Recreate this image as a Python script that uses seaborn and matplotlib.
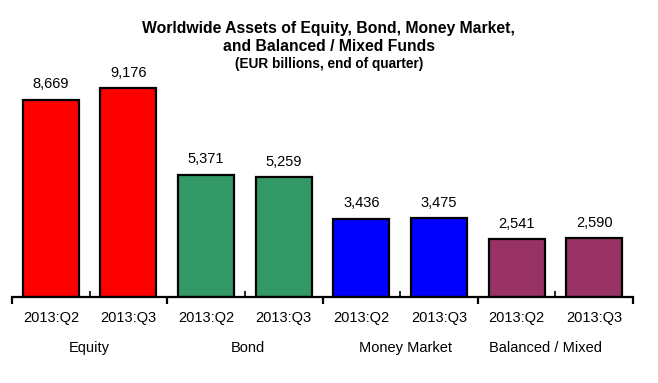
from matplotlib import pyplot as plt
from matplotlib.ticker import FixedLocator
import pandas as pd
import seaborn as sns

# data
groups = ["Equity", "Bond", "Money Market", "Balanced / Mixed"]
quarters = ["2013:Q2", "2013:Q3"]
values = [8669, 9176, 5371, 5259, 3436, 3475, 2541, 2590]
colors = ["#ff0000", "#339966", "#0000ff", "#993366"]
group_label_x = [0.5, 2.54, 4.57, 6.37]

rows = []
for i, g in enumerate(groups):
    for j, q in enumerate(quarters):
        rows.append({"slot": f"{g} {q}", "group": g, "quarter": q,
                     "value": values[i * len(quarters) + j]})
df = pd.DataFrame(rows)

sns.set_style("white")
plt.rcParams["font.family"] = ["Liberation Sans", "DejaVu Sans"]
plt.rcParams["text.color"] = "black"
plt.rcParams["xtick.color"] = "black"
plt.rcParams["xtick.labelcolor"] = "black"

fig = plt.figure(figsize=(6.58, 3.83), dpi=100)
ax = fig.add_axes([12 / 658, 0.2245, 621 / 658, 0.5948])

sns.barplot(data=df, x="slot", y="value", hue="group", palette=colors,
            saturation=1, dodge=False, width=0.72, edgecolor="black",
            linewidth=1.6, legend=False, ax=ax)

ax.set_xlim(-0.5, len(df) - 0.5)
ax.set_ylim(0, 10000)
ax.set_xlabel("")
ax.set_ylabel("")
ax.set_yticks([])
for side in ["left", "right", "top"]:
    ax.spines[side].set_visible(False)
ax.spines["bottom"].set_linewidth(1.6)
ax.spines["bottom"].set_color("black")

# value labels
for cont in ax.containers:
    ax.bar_label(cont, labels=[f"{v:,.0f}" for v in cont.datavalues],
                 padding=6, fontsize=10.5, color="black")

# group boundary ticks (out) and in-between ticks (in)
ax.xaxis.set_major_locator(FixedLocator([k - 0.5 for k in range(0, len(df) + 1, 2)]))
ax.xaxis.set_minor_locator(FixedLocator([k + 0.5 for k in range(0, len(df), 2)]))
ax.tick_params(axis="x", which="major", direction="out", length=5, width=1.6,
               color="black", labelbottom=False, bottom=True)
ax.tick_params(axis="x", which="minor", direction="in", length=4, width=1.2,
               color="black", bottom=True)

# quarter labels
sec = ax.secondary_xaxis("bottom")
sec.set_xticks(range(len(df)))
sec.set_xticklabels(df["quarter"], fontsize=10.5, color="black")
sec.tick_params(length=0, pad=10)
sec.spines["bottom"].set_visible(False)

# group labels
for x, g in zip(group_label_x, groups):
    ax.text(x, -0.225, g, transform=ax.get_xaxis_transform(),
            ha="center", va="center", fontsize=10.5, color="black")

fig.text(0.5, 0.902, "Worldwide Assets of Equity, Bond, Money Market,\nand Balanced / Mixed Funds",
         ha="center", va="center", fontsize=11.3, fontweight="bold", linespacing=1.25)
fig.text(0.5, 0.833, "(EUR billions, end of quarter)", ha="center", va="center",
         fontsize=9.8, fontweight="bold")

fig.savefig("out.png", dpi=100, facecolor="white")
